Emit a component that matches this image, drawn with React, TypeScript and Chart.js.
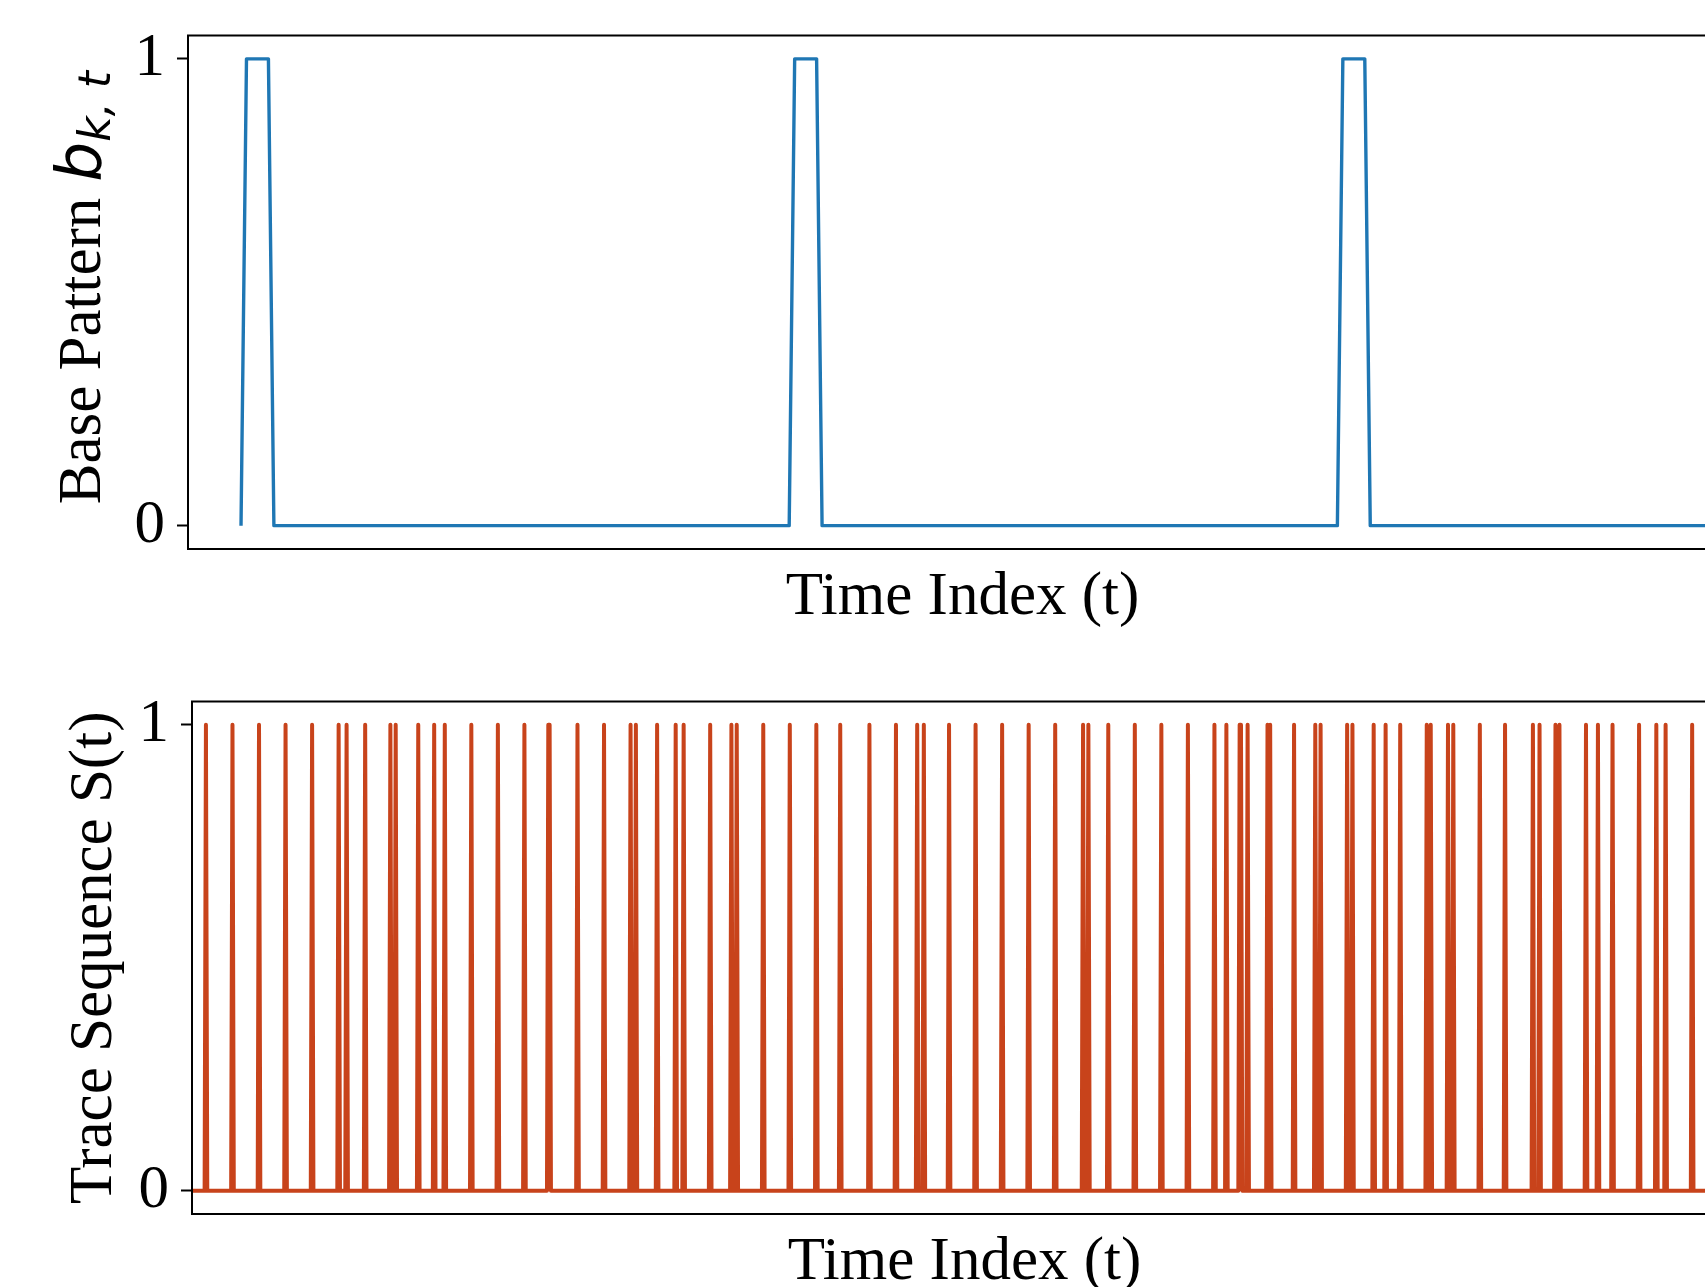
import React, { useEffect, useRef } from 'react';
import { Chart, registerables } from 'chart.js';

Chart.register(...registerables);

// ---------- data ----------
// Top panel: base pattern b_{k,t} (breakpoints: time index -> value)
const baseTimes = [0, 1, 5, 6, 100, 101, 105, 106, 200, 201, 205, 206, 300];
const baseValues = [0, 1, 1, 0, 0, 1, 1, 0, 0, 1, 1, 0, 0];

// Bottom panel: trace sequence S(t); time indices at which S(t) = 1
const traceLength = 1200;
const traceSpikeTimes = [
  10, 30, 50, 70, 90, 110, 116, 130, 149, 153, 170, 182, 190, 210, 230, 250,
  268, 269, 290, 310, 330, 334, 350, 364, 370, 390, 406, 410, 430, 450, 470,
  488, 510, 530, 546, 551, 570, 590, 610, 630, 650, 671, 675, 690, 710, 730,
  750, 770, 779, 789, 790, 795, 810, 812, 830, 846, 850, 870, 874, 890, 899,
  910, 930, 933, 946, 950, 970, 989, 1010, 1015, 1027, 1030, 1050, 1059, 1070,
  1090, 1103, 1110, 1130,
];

const yTickValues = [0, 1];
const topXRange = [-9.67, 272.9];
const bottomXRange = [-0.5, 1163.8];

const xTitleText = 'Time Index (t)';
const topYTitleText = 'Base Pattern';
const topYMathText = 'b';
const topYSubText = 'k, t';
const bottomYTitleText = 'Trace Sequence S(t)';

// ---------- styling ----------
const SERIF = '"Liberation Serif", "Times New Roman", serif';
const MATH = '"DejaVu Sans", sans-serif';
const BLUE = '#1f77b4';
const ORANGE = '#c8431b';
const CANVAS_W = 1740;
const FS = 61;

type Seg = { text: string; font: string; dy: number; gapAfter?: number };

function makeDecor(opts: {
  yTitleX: number;
  xTitleOffset: number;
  segs: Seg[];
  startFromCenter?: number;
}) {
  return {
    id: 'decor',
    afterDatasetsDraw(chart: any) {
      const { ctx, chartArea: a } = chart;
      ctx.save();
      // frame (spines)
      ctx.strokeStyle = '#000';
      ctx.lineWidth = 2;
      ctx.strokeRect(a.left, a.top, a.right - a.left, a.bottom - a.top);
      // x title
      ctx.fillStyle = '#000';
      ctx.font = `${FS}px ${SERIF}`;
      ctx.textAlign = 'center';
      ctx.textBaseline = 'alphabetic';
      ctx.fillText(xTitleText, (a.left + a.right) / 2, a.bottom + opts.xTitleOffset);
      // y title (rotated, possibly with math segments)
      let total = 0;
      const widths = opts.segs.map((s) => {
        ctx.font = s.font;
        const w = ctx.measureText(s.text).width + (s.gapAfter || 0);
        total += w;
        return w;
      });
      ctx.translate(opts.yTitleX, (a.top + a.bottom) / 2);
      ctx.rotate(-Math.PI / 2);
      ctx.textAlign = 'left';
      let x = opts.startFromCenter !== undefined ? opts.startFromCenter : -total / 2;
      opts.segs.forEach((s, i) => {
        ctx.font = s.font;
        ctx.fillText(s.text, x, s.dy);
        x += widths[i];
      });
      ctx.restore();
    },
  };
}

function yAxis(width: number) {
  return {
    type: 'linear' as const,
    min: -0.05,
    max: 1.05,
    afterBuildTicks: (scale: any) => {
      scale.ticks = yTickValues.map((v) => ({ value: v }));
    },
    afterFit: (scale: any) => {
      scale.width = width;
    },
    ticks: {
      color: '#000',
      padding: 12,
      font: { family: SERIF, size: FS, lineHeight: 0.4 },
      callback: (v: any) => String(v),
    },
    grid: {
      display: true,
      drawOnChartArea: false,
      drawTicks: true,
      tickLength: 11,
      tickWidth: 2,
      tickColor: '#000',
      color: '#000',
    },
    border: { display: false },
  };
}

function ChartPanel({ config, height, top }: { config: any; height: number; top: number }) {
  const ref = useRef<HTMLCanvasElement | null>(null);
  useEffect(() => {
    if (!ref.current) return;
    const chart = new Chart(ref.current, config);
    return () => chart.destroy();
  }, [config]);
  return (
    <canvas
      ref={ref}
      width={CANVAS_W}
      height={height}
      style={{ position: 'absolute', left: 0, top, width: CANVAS_W, height, display: 'block' }}
    />
  );
}

const topConfig = {
  type: 'line',
  data: {
    datasets: [
      {
        data: baseTimes.map((t, i) => ({ x: t, y: baseValues[i] })),
        borderColor: BLUE,
        borderWidth: 3.4,
        pointRadius: 0,
        tension: 0,
        fill: false,
        borderJoinStyle: 'round',
        borderCapStyle: 'butt',
      },
    ],
  },
  options: {
    animation: false,
    responsive: false,
    events: [],
    layout: { padding: { top: 35.5, bottom: 91, left: 0, right: 3 } },
    plugins: { legend: { display: false }, tooltip: { enabled: false } },
    scales: {
      x: { type: 'linear', min: topXRange[0], max: topXRange[1], display: false },
      y: yAxis(188),
    },
  },
  plugins: [
    makeDecor({
      yTitleX: 100,
      xTitleOffset: 64.5,
      startFromCenter: -212,
      segs: [
        { text: topYTitleText, font: `${FS}px ${SERIF}`, dy: 0, gapAfter: 16 },
        { text: topYMathText, font: `italic 63px ${MATH}`, dy: 0 },
        { text: topYSubText, font: `italic 44px ${MATH}`, dy: 10 },
      ],
    }),
  ],
};

const spikeSet = new Set(traceSpikeTimes);
const tracePoints: { x: number; y: number }[] = [];
for (let t = 0; t <= traceLength; t++) {
  tracePoints.push({ x: t, y: spikeSet.has(t) ? 1 : 0 });
}

const bottomConfig = {
  type: 'line',
  data: {
    datasets: [
      {
        data: tracePoints,
        borderColor: ORANGE,
        borderWidth: 4,
        pointRadius: 0,
        tension: 0,
        fill: false,
        borderJoinStyle: 'round',
        borderCapStyle: 'butt',
      },
    ],
  },
  options: {
    animation: false,
    responsive: false,
    events: [],
    layout: { padding: { top: 61.5, bottom: 73, left: 0, right: 3 } },
    plugins: { legend: { display: false }, tooltip: { enabled: false } },
    scales: {
      x: { type: 'linear', min: bottomXRange[0], max: bottomXRange[1], display: false },
      y: yAxis(192),
    },
  },
  plugins: [
    makeDecor({
      yTitleX: 111,
      xTitleOffset: 65,
      segs: [{ text: bottomYTitleText, font: `${FS}px ${SERIF}`, dy: 0 }],
    }),
  ],
};

export default function App() {
  return (
    <div
      style={{
        position: 'absolute',
        left: 0,
        top: 0,
        width: 1705,
        height: 1287,
        overflow: 'hidden',
        background: '#fff',
      }}
    >
      <ChartPanel config={topConfig} height={640} top={0} />
      <ChartPanel config={bottomConfig} height={647} top={640} />
    </div>
  );
}
